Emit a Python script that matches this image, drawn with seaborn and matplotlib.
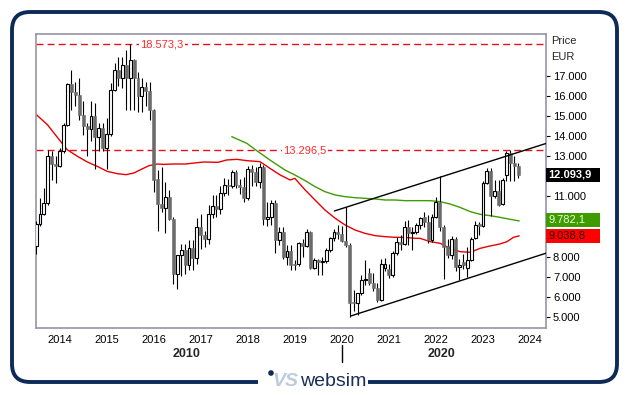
import numpy as np
import pandas as pd
import matplotlib
matplotlib.use('Agg')
import matplotlib.pyplot as plt
import matplotlib.transforms as mtransforms
from matplotlib.patches import FancyBboxPatch, Rectangle, Circle
from matplotlib.ticker import FuncFormatter
import seaborn as sns

# monthly candles, Jul 2013 .. Oct 2023
months = pd.date_range('2013-07-01', '2023-10-01', freq='MS')
opens = [8550, 9650, 10150, 10700, 13000, 12600, 12500, 13250, 14550, 16600, 16200, 16050,
         15050, 14500, 14350, 15000, 13950, 14400, 13400, 14100, 16300, 17300, 16900, 17550,
         16900, 17800, 16900, 16000, 16450, 16250, 15300, 11850, 10650, 10450, 10950, 9900,
         7150, 8100, 8350, 7600, 8450, 7950, 9500, 9100, 8900, 10150, 10550, 10400,
         11150, 11550, 11500, 12200, 11550, 11450, 10900, 12350, 12200, 11700, 12450, 9900,
         10000, 10700, 8850, 9250, 8000, 8300, 7650, 7650, 8700, 8550, 9250, 7450,
         7850, 7750, 7800, 8350, 8950, 9250, 9150, 8800, 8600, 5750, 5700, 6180,
         6850, 7170, 6710, 6430, 5850, 7450, 7370, 7090, 8200, 8750, 8650, 9460,
         9170, 9250, 9580, 9990, 9750, 8850, 10000, 10750, 9500, 8550, 8100, 8900,
         7480, 7750, 7450, 7850, 8950, 9650, 9550, 11650, 12250, 11000, 11250, 10650,
         12050, 13150, 12650, 12500]
highs = [9800, 10900, 11400, 13300, 13250, 13000, 13400, 14650, 16650, 17300, 16700, 16900,
         15750, 14650, 15750, 15650, 14650, 14650, 14900, 16650, 17650, 17950, 17950, 18300,
         18573.3, 17850, 17200, 16900, 16700, 16700, 15350, 12300, 12450, 11700, 11300, 10000,
         8100, 8650, 8650, 8850, 8850, 9950, 10150, 9300, 10600, 11050, 11050, 11500,
         11900, 11850, 12300, 12300, 11850, 11950, 12500, 12550, 12450, 12650, 12550, 10750,
         10800, 10800, 9500, 9500, 8600, 8600, 7850, 8750, 8900, 9400, 9300, 7950,
         7900, 8000, 8450, 9000, 9400, 9600, 9550, 10460, 8700, 6350, 6200, 7100,
         7850, 7450, 7200, 6700, 7900, 7950, 7650, 8300, 9000, 9100, 9800, 9830,
         9500, 9700, 10000, 10250, 10100, 10150, 10950, 12000, 9600, 8900, 9050, 9000,
         7900, 8150, 8500, 9000, 9800, 9750, 11750, 12400, 12400, 11800, 11800, 11900,
         13250, 13296.5, 13000, 12650]
lows = [8150, 9550, 10100, 10600, 11800, 11650, 12450, 13150, 14500, 15300, 15500, 14800,
        14050, 13000, 13750, 12350, 13250, 13250, 12350, 14000, 16250, 16500, 16400, 15300,
        15300, 15300, 15200, 15200, 15500, 14800, 11200, 9300, 10250, 9200, 9850, 6650,
        6400, 7050, 7150, 7350, 7350, 7650, 8400, 8500, 8650, 9950, 10000, 10150,
        11000, 11050, 11400, 11400, 11100, 10750, 10800, 11500, 11500, 11400, 9600, 9550,
        9600, 8200, 8600, 7900, 7600, 7350, 7350, 7550, 8000, 8500, 7400, 7400,
        7100, 7100, 7700, 8250, 8800, 8900, 8750, 8500, 5015, 5300, 5100, 6100,
        6600, 6600, 6300, 5750, 5800, 7300, 6950, 7000, 8100, 8350, 8600, 8600,
        8350, 9150, 9400, 9500, 8700, 8750, 9950, 9300, 6900, 7950, 7900, 7300,
        6850, 7400, 7000, 7800, 8900, 9100, 9500, 11600, 10050, 10900, 10550, 10600,
        11750, 11750, 11750, 11900]
closes = [9650, 10150, 10700, 13000, 12600, 12500, 13250, 14550, 16600, 16200, 16050, 15050,
          14500, 14350, 15000, 13950, 14400, 13400, 14100, 16300, 17300, 16900, 17550, 16900,
          17800, 16900, 16000, 16450, 16250, 15300, 11800, 10650, 10450, 10950, 9900, 7150,
          8100, 8350, 7600, 8450, 7950, 9500, 9100, 8900, 10150, 10550, 10400, 11150,
          11550, 11500, 12200, 11550, 11450, 10900, 12350, 12200, 11700, 12450, 9900, 10000,
          10700, 8850, 9250, 8000, 8300, 7600, 7600, 8700, 8550, 9250, 7450, 7850,
          7750, 7800, 8350, 8950, 9250, 9150, 8800, 8600, 5700, 5700, 6180, 6850,
          6900, 6710, 6430, 5850, 7620, 7620, 7090, 8200, 8750, 8650, 9460, 9170,
          9250, 9580, 9910, 9750, 8850, 10000, 10750, 9500, 8500, 8100, 8900, 7500,
          7600, 7600, 7850, 8900, 9600, 9550, 11650, 12250, 11000, 11250, 10600, 11800,
          13150, 12650, 12500, 12093.9]

# moving averages (x in fractional years)
red_ma_x = [2013.49, 2013.74, 2014.02, 2014.16, 2014.38, 2014.59, 2014.80, 2015.01, 2015.23,
            2015.41, 2015.58, 2015.72, 2015.90, 2016.08, 2016.22, 2016.42, 2016.67, 2017.06,
            2017.37, 2017.55, 2017.77, 2017.98, 2018.26, 2018.47, 2018.69, 2018.90, 2019.00,
            2019.22, 2019.43, 2019.64, 2019.86, 2020.07, 2020.28, 2020.49, 2020.71, 2020.92,
            2021.13, 2021.34, 2021.56, 2021.66, 2021.88, 2022.09, 2022.30, 2022.51, 2022.73,
            2022.94, 2023.15, 2023.36, 2023.51, 2023.65, 2023.77]
red_ma = [15107, 14576, 13746, 13331, 12999, 12717, 12501, 12252, 12136,
          12086, 12169, 12335, 12534, 12617, 12600, 12618, 12618, 12717,
          12701, 12817, 12850, 12784, 12734, 12402, 12070, 11821, 11904,
          11323, 10825, 10327, 9912, 9580, 9331, 9165, 9049, 8999,
          8966, 8966, 8916, 8916, 8750, 8667, 8418, 8252, 8219,
          8418, 8534, 8634, 8750, 8966, 9038.8]
green_ma_x = [2017.66, 2017.98, 2018.19, 2018.47, 2018.79, 2019.00, 2019.22, 2019.43, 2019.64,
              2019.86, 2020.07, 2020.28, 2020.49, 2020.71, 2020.92, 2021.13, 2021.34, 2021.56,
              2021.88, 2022.09, 2022.30, 2022.51, 2022.73, 2022.94, 2023.15, 2023.36, 2023.58,
              2023.77]
green_ma = [13979, 13647, 13282, 12817, 12319, 12070, 11788, 11489, 11240,
            11074, 10991, 10941, 10908, 10875, 10825, 10825, 10792, 10792,
            10792, 10742, 10626, 10460, 10244, 10111, 10045, 9962, 9862,
            9782.1]

# trend channel
upper_x = [2019.84, 2024.34]
upper_y = [10277, 13640]
lower_x = [2020.19, 2024.34]
lower_y = [5048, 8175]

levels = [18573.3, 13296.5]
level_labels = ['18.573,3', '13.296,5']
level_pos = [0.248, 0.528]

y_ticks = list(range(5000, 18000, 1000))
hidden_ticks = [9000, 12000]  # covered by the value boxes
years = list(range(2014, 2025))

last_labels = ['12.093,9', '9.782,1', '9.038,8']
last_centers = [12093.9, 9830, 9038.8]
last_colors = ['#000000', '#3f9c00', '#ff0000']
last_text_colors = ['#ffffff', '#e6ffd8', '#2b0000']

sns.set_theme(style='white')
plt.rcParams['font.family'] = ['Liberation Sans', 'DejaVu Sans']

W, H = 629, 395
fig = plt.figure(figsize=(W / 100, H / 100), dpi=100)
fig.patch.set_facecolor('white')
ax = fig.add_axes([35.5 / W, (H - 328) / H, 510.5 / W, 294 / H])

df = pd.DataFrame({'t': months.year + (months.month - 1) / 12,
                   'open': opens, 'high': highs, 'low': lows, 'close': closes})
up = df[df['close'] >= df['open']]
dn = df[df['close'] < df['open']]

ax.vlines(df['t'], df['low'], df['high'], color='black', lw=0.8, zorder=3)
ax.bar(dn['t'], dn['open'] - dn['close'], bottom=dn['close'], width=0.062,
       color='#6b6b6b', edgecolor='#6b6b6b', lw=0.4, zorder=4)
ax.bar(up['t'], up['close'] - up['open'], bottom=up['open'], width=0.062,
       color='white', edgecolor='black', lw=0.8, zorder=4)

sns.lineplot(x=red_ma_x, y=red_ma, color='#e80000', lw=1.0, ax=ax, zorder=2)
sns.lineplot(x=green_ma_x, y=green_ma, color='#3f9c00', lw=1.0, ax=ax, zorder=2)
ax.plot(upper_x, upper_y, color='black', lw=1.0, zorder=5)
ax.plot(lower_x, lower_y, color='black', lw=1.0, zorder=5)

blend = mtransforms.blended_transform_factory(ax.transAxes, ax.transData)
for lv, lab, pos in zip(levels, level_labels, level_pos):
    ax.axhline(lv, color='#e8101a', ls=(0, (5, 3)), lw=1.0, zorder=1)
    ax.text(pos, lv, lab, transform=blend, ha='center', va='center', fontsize=8,
            color='#ff2a2a', zorder=6,
            bbox=dict(fc='white', ec='none', pad=1.2))

ax.set_xlim(2013.487, 2024.34)
ax.set_ylim(4450, 19092)
ax.yaxis.tick_right()
ax.set_yticks(y_ticks)
ax.yaxis.set_major_formatter(FuncFormatter(
    lambda v, p: '' if v in hidden_ticks else f'{v:,.0f}'.replace(',', '.')))
ax.set_xticks(years)
ax.set_xticklabels([str(y) for y in years])
ax.tick_params(axis='y', length=3, width=0.8, pad=2, labelsize=8, colors='black', right=True)
ax.tick_params(axis='x', length=0, pad=5, labelsize=8, colors='black')
for s in ax.spines.values():
    s.set_color('#9595a8')
    s.set_linewidth(1.2)
ax.grid(False)

# last-value boxes at the right edge
box_h = 14 * (19092 - 4450) / 294
for c, lab, fc, tc in zip(last_centers, last_labels, last_colors, last_text_colors):
    ax.add_patch(Rectangle((1.0, c - box_h / 2), 54 / 510.5, box_h, transform=blend,
                           fc=fc, ec='none', clip_on=False, zorder=7))
    ax.text(1.004, c, lab, transform=blend, ha='left', va='center', fontsize=8,
            color=tc, fontweight='bold' if fc == '#000000' else 'normal',
            zorder=8, clip_on=False)

px = lambda x, y: (x / W, 1 - y / H)
fig.text(*px(551, 41), 'Price', fontsize=8, ha='left', va='center')
fig.text(*px(551, 57), 'EUR', fontsize=8, ha='left', va='center')
fig.text(*px(187, 354), '2010', fontsize=9, fontweight='bold', ha='center', va='center')
fig.text(*px(441, 354), '2020', fontsize=9, fontweight='bold', ha='center', va='center')
fig.add_artist(plt.Line2D([342 / W, 342 / W], [1 - 345 / H, 1 - 362 / H], color='black', lw=1))

# rounded frame and logo
fig.add_artist(FancyBboxPatch((0.12, 0.13), 6.05, 3.70,
                              boxstyle='round,pad=0,rounding_size=0.18',
                              transform=fig.dpi_scale_trans, fill=False,
                              ec='#0e2b58', lw=2.8, zorder=0))
fig.add_artist(Rectangle((2.58, 0.02), 1.10, 0.25, transform=fig.dpi_scale_trans,
                         fc='white', ec='none', zorder=1))
fig.add_artist(Circle((2.71, 0.22), 0.028, transform=fig.dpi_scale_trans,
                      fc='#0e2b58', ec='none', zorder=2))
fig.text(*px(285, 382), 'VS', fontsize=14, fontstyle='italic', fontweight='bold',
         color='#bccbde', ha='center', va='center', zorder=2)
fig.text(*px(333, 382), 'websim', fontsize=14, color='#1a2e58', ha='center', va='center', zorder=2)

fig.savefig('out.png', dpi=100)
